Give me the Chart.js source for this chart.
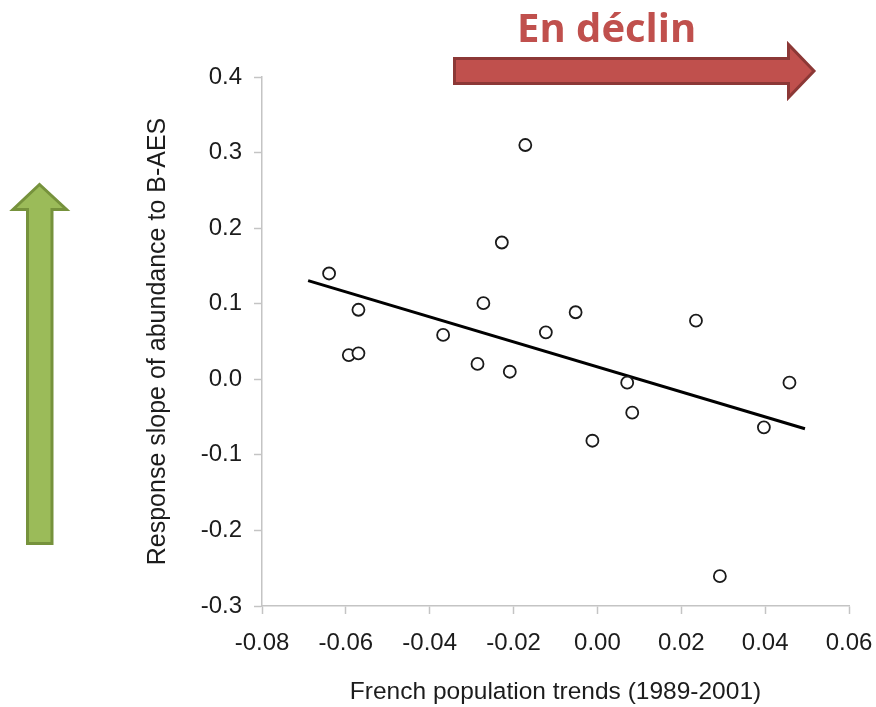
<!DOCTYPE html>
<html>
<head>
<meta charset="utf-8">
<script src="https://cdn.jsdelivr.net/npm/chart.js@4"></script>
<style>
  html, body { margin:0; padding:0; background:#fff; }
  #wrap { position:relative; width:876px; height:707px; overflow:hidden; }
  #c { position:absolute; left:0; top:0; }
  #deco { position:absolute; left:0; top:0; pointer-events:none; }
</style>
</head>
<body>
<div id="wrap">
  <canvas id="c" width="876" height="707"></canvas>
  <svg id="deco" width="876" height="707" xmlns="http://www.w3.org/2000/svg">
    <text x="517" y="42" font-family="'Open Sans', 'Noto Sans', sans-serif" font-weight="700" font-size="40" fill="#C0504D">En déclin</text>
    <path d="M454.5,58.5 L788.5,58.5 L788.5,44.5 L814,71 L788.5,97.5 L788.5,83.5 L454.5,83.5 Z" fill="#C0504D" stroke="#8C3836" stroke-width="3" stroke-linejoin="miter"/>
    <path d="M27.5,543.5 L27.5,209.5 L13,209.5 L39.5,184.5 L66.5,209.5 L52,209.5 L52,543.5 Z" fill="#9BBB59" stroke="#76923C" stroke-width="3" stroke-linejoin="miter"/>
  </svg>
</div>
<script>
// ---- data ----
const speciesTrend = [-0.064, -0.057, -0.0593, -0.057, -0.0368, -0.0272, -0.0228, -0.0172, -0.0123, -0.0286, -0.0209, -0.0052, 0.0235, 0.0071, 0.0083, -0.0012, 0.0458, 0.0397, 0.0292];
const responseSlope = [0.140, 0.092, 0.032, 0.0344, 0.0587, 0.1007, 0.181, 0.310, 0.0622, 0.0203, 0.010, 0.0887, 0.0776, -0.0045, -0.0442, -0.0813, -0.0045, -0.0636, -0.2605];
const fitX = [-0.069, 0.0495];
const fitY = [0.1306, -0.0654];
const xTickValues = [-0.08, -0.06, -0.04, -0.02, 0.00, 0.02, 0.04, 0.06];
const xTickLabels = ['-0.08', '-0.06', '-0.04', '-0.02', '0.00', '0.02', '0.04', '0.06'];
const yTickValues = [-0.3, -0.2, -0.1, 0.0, 0.1, 0.2, 0.3, 0.4];
const yTickLabels = ['-0.3', '-0.2', '-0.1', '0.0', '0.1', '0.2', '0.3', '0.4'];
const xTitle = 'French population trends (1989-2001)';
const yTitle = 'Response slope of abundance to B-AES';

const FONT = "'Liberation Sans', Arial, Helvetica, sans-serif";
const AXIS = '#c4c4c4';
const TXT = '#1c1c1c';

new Chart(document.getElementById('c'), {
  type: 'scatter',
  data: {
    datasets: [
      {
        label: 'fit',
        data: fitX.map((x, i) => ({ x: x, y: fitY[i] })),
        showLine: true,
        borderColor: '#000',
        borderWidth: 3,
        pointRadius: 0,
        fill: false,
        order: 2
      },
      {
        label: 'species',
        data: speciesTrend.map((x, i) => ({ x: x, y: responseSlope[i] })),
        pointRadius: 6,
        pointBorderWidth: 1.8,
        pointBorderColor: '#1a1a1a',
        pointBackgroundColor: '#ffffff',
        order: 1
      }
    ]
  },
  options: {
    responsive: false,
    animation: false,
    layout: { padding: { top: 77, right: 27, left: 0, bottom: 0 } },
    plugins: { legend: { display: false }, tooltip: { enabled: false }, title: { display: false } },
    scales: {
      x: {
        type: 'linear',
        position: 'bottom',
        min: -0.08,
        max: 0.06,
        afterBuildTicks: s => { s.ticks = xTickValues.map(v => ({ value: v })); },
        afterFit: s => { s.height = 101; s.paddingLeft = 0; s.paddingRight = 0; },
        ticks: {
          callback: (v, i) => xTickLabels[i],
          font: { family: FONT, size: 24 },
          color: TXT,
          padding: 15,
          maxRotation: 0,
          autoSkip: false
        },
        grid: { drawOnChartArea: false, drawTicks: true, tickLength: 8, tickColor: AXIS, tickWidth: 1.5 },
        border: { color: AXIS, width: 1.5 },
        title: { display: true, text: xTitle, font: { family: FONT, size: 24.5 }, color: TXT, padding: { top: 0, bottom: 0 } }
      },
      y: {
        type: 'linear',
        position: 'left',
        min: -0.3,
        max: 0.4,
        afterBuildTicks: s => { s.ticks = yTickValues.map(v => ({ value: v })); },
        afterFit: s => { s.width = 262; s.paddingTop = 0; s.paddingBottom = 0; },
        ticks: {
          callback: (v, i) => yTickLabels[i],
          font: { family: FONT, size: 24 },
          color: TXT,
          padding: 12,
          autoSkip: false
        },
        grid: { drawOnChartArea: false, drawTicks: true, tickLength: 8, tickColor: AXIS, tickWidth: 1.5 },
        border: { color: AXIS, width: 1.5 },
        title: { display: true, text: yTitle, font: { family: FONT, size: 25 }, color: TXT, padding: { top: 143, bottom: 0 } }
      }
    }
  }
});
</script>
</body>
</html>
